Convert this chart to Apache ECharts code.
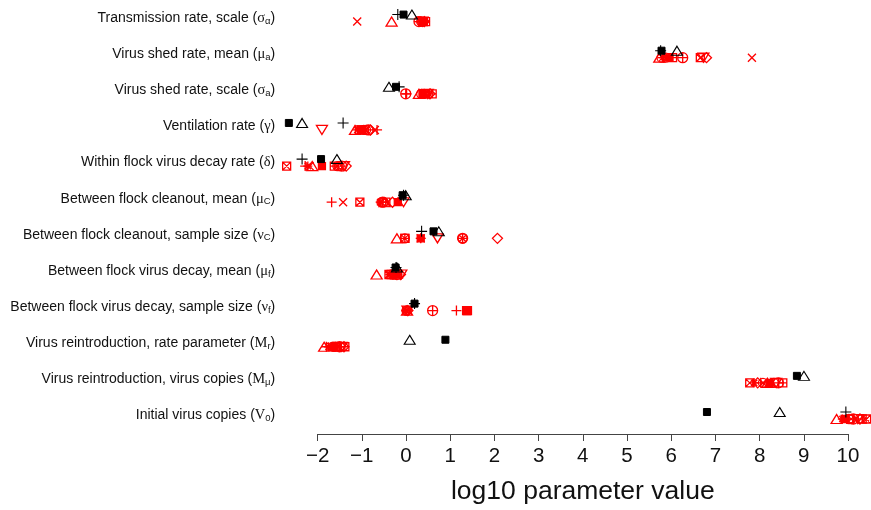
<!DOCTYPE html>
<html>
<head>
<meta charset="utf-8">
<script src="https://cdn.jsdelivr.net/npm/echarts@6/dist/echarts.min.js"></script>
<style>
html,body{margin:0;padding:0;background:#fff;}
#chart{width:871px;height:510px;}
</style>
</head>
<body>
<div id="chart"></div>
<script>
// ---------- DATA ----------
const paramNames = [
  'Transmission rate, scale',
  'Virus shed rate, mean',
  'Virus shed rate, scale',
  'Ventilation rate',
  'Within flock virus decay rate',
  'Between flock cleanout, mean',
  'Between flock cleanout, sample size',
  'Between flock virus decay, mean',
  'Between flock virus decay, sample size',
  'Virus reintroduction, rate parameter',
  'Virus reintroduction, virus copies',
  'Initial virus copies'
];
const paramSymbols = ['σ','μ','σ','γ','δ','μ','ν','μ','ν','M','M','V'];
const paramSubs    = ['α','a','a','','','C','C','f','f','r','μ','0'];

const xTickMin = -2;
const xTickMax = 10;
const xTickStep = 1;
const xTitle = 'log10 parameter value';

// black reference markers (one value per parameter row)
const blackPlus     = [-0.18, 5.78, -0.15, -1.42, -2.35, -0.05, 0.36, -0.22, 0.20, null, null, 9.98];
const blackSquare   = [-0.05, 5.80, -0.22, -2.65, -1.92, -0.07, 0.63, -0.23, 0.20, 0.90, 8.87, 6.83];
const blackTriangle = [ 0.14, 6.15, -0.38, -2.35, -1.56,  0.00, 0.75, -0.20, null, 0.09, 9.03, 8.48];

// red estimate markers (one value per parameter row)
const redTriangle    = [-0.32, 5.75, 0.30, -1.15, -2.12, -0.48, -0.20, -0.66, 0.03, -1.85, 8.20,  9.77];
const redInvTriangle = [ 0.38, 6.75, 0.50, -1.90, -1.40, -0.05,  0.72, -0.10, 0.04, -1.45, 8.40, 10.25];
const redPlus        = [ 0.33, 5.85, 0.02, -0.65, -2.28, -1.68,  0.34, -0.35, 1.15, -1.80, 8.05, 10.00];
const redCross       = [-1.10, 7.85, 0.52, -0.70, -2.18, -1.42,  0.34, -0.15, 0.05, -1.70, 8.28, 10.20];
const redDiamond     = [ 0.42, 6.82, 0.55, -0.80, -1.35, -0.30,  2.08, -0.12, 0.05, -1.40, 7.98, 10.30];
const redSquareX     = [ 0.40, 6.68, 0.45, -1.00, -2.70, -1.04, -0.02, -0.38, 1.38, -1.55, 7.80, 10.45];
const redAsterisk    = [ 0.36, 5.82, 0.40, -1.10, -2.22, -0.58,  0.34, -0.25, 0.00, -1.75, 7.90,  9.90];
const redCircle      = [ 0.35, 5.80, 0.35, -0.95, -1.50, -0.50, -0.02, -0.30, 0.02, -1.60, 8.35, 10.05];
const redCirclePlus  = [ 0.30, 6.28, 0.00, -0.85, -1.45, -0.52,  1.29, -0.20, 0.61, -1.50, 8.45, 10.15];
const redCircleX     = [ 0.37, 5.90, 0.42, -0.90, -1.55, -0.55,  1.29, -0.28, 0.02, -1.65, 8.10, 10.10];
const redSquarePlus  = [ 0.45, 6.05, 0.60, -1.05, -1.62, -0.45, -0.02, -0.33, 1.40, -1.38, 8.55, 10.35];
const redFilled      = [ 0.39, 5.98, 0.38, -0.98, -1.90, -0.18,  0.34, -0.22, 1.38, -1.62, 8.25,  9.95];

// ---------- STYLE ----------
const RED = '#ff0000';
const BLACK = '#000000';
const NONE = 'rgba(0,0,0,0)';
const SYM = {
  triangle: 'path://M5,0L10,9L0,9Z',
  invtri:   'path://M0,0L10,0L5,9Z',
  plus:     'path://M5,0L5,10M0,5L10,5',
  cross:    'path://M0,0L10,10M10,0L0,10',
  diamond:  'path://M5,0L10,5L5,10L0,5Z',
  squarex:  'path://M0,0L10,0L10,10L0,10ZM0,0L10,10M10,0L0,10',
  asterisk: 'path://M5,0L5,10M0,5L10,5M1.5,1.5L8.5,8.5M8.5,1.5L1.5,8.5',
  circle:   'path://M0,5A5,5 0 1,0 10,5A5,5 0 1,0 0,5Z',
  circleplus:'path://M0,5A5,5 0 1,0 10,5A5,5 0 1,0 0,5ZM5,0L5,10M0,5L10,5',
  circlex:  'path://M0,5A5,5 0 1,0 10,5A5,5 0 1,0 0,5ZM1.5,1.5L8.5,8.5M8.5,1.5L1.5,8.5',
  squareplus:'path://M0,0L10,0L10,10L0,10ZM5,0L5,10M0,5L10,5',
  square:   'path://M0,0L10,0L10,10L0,10Z'
};

const PX_PER_UNIT = 44.2;
const ZERO_PX = 406;
const X_MIN = -2.8, X_MAX = 10.55;
const W = 871, H = 510;
const gridLeft = ZERO_PX + X_MIN * PX_PER_UNIT;
const gridRight = W - (ZERO_PX + X_MAX * PX_PER_UNIT);
const axisLeft = ZERO_PX + xTickMin * PX_PER_UNIT;
const axisRight = W - (ZERO_PX + xTickMax * PX_PER_UNIT);
const ROW_H = 36.18;
const FIRST_ROW_Y = 17.5;
const gridTop = FIRST_ROW_Y - ROW_H / 2;
const gridBottom = H - (gridTop + ROW_H * paramNames.length);
const AXIS_Y = 437;

function toData(arr) {
  const out = [];
  arr.forEach((v, i) => { if (v !== null && v !== undefined) out.push([v, paramNames[i]]); });
  return out;
}
function mk(arr, sym, size, color, filled, dy, z, bw) {
  return {
    type: 'scatter', xAxisIndex: 0, yAxisIndex: 0,
    data: toData(arr), symbol: SYM[sym], symbolSize: size,
    symbolOffset: [0, dy], clip: false, silent: true, z: z,
    itemStyle: { color: filled ? color : NONE, borderColor: color, borderWidth: bw || 1.3, opacity: 1 },
    emphasis: { disabled: true }
  };
}
const RDY = 3.5, BDY = -3.5;
const series = [
  mk(redTriangle, 'triangle', [11, 9], RED, false, RDY, 2),
  mk(redInvTriangle, 'invtri', [11, 9], RED, false, RDY, 2),
  mk(redPlus, 'plus', [10, 10], RED, false, RDY, 2),
  mk(redCross, 'cross', [8, 8], RED, false, RDY, 2),
  mk(redDiamond, 'diamond', [10, 10], RED, false, RDY, 2),
  mk(redSquareX, 'squarex', [8, 8], RED, false, RDY, 2),
  mk(redAsterisk, 'asterisk', [9, 9], RED, false, RDY, 2),
  mk(redCircle, 'circle', [9, 9], RED, false, RDY, 2),
  mk(redCirclePlus, 'circleplus', [10, 10], RED, false, RDY, 2),
  mk(redCircleX, 'circlex', [9, 9], RED, false, RDY, 2),
  mk(redSquarePlus, 'squareplus', [8, 8], RED, false, RDY, 2),
  mk(redFilled, 'square', [7, 7], RED, true, RDY, 2),
  mk(blackTriangle, 'triangle', [11, 9], BLACK, false, BDY, 3, 1.1),
  mk(blackSquare, 'square', [7, 7], BLACK, true, BDY, 3, 1),
  mk(blackPlus, 'plus', [11, 11], BLACK, false, BDY, 3, 1.1)
];

const chart = echarts.init(document.getElementById('chart'), null, { renderer: 'canvas' });
const FONT = '"Liberation Sans", Arial, Helvetica, sans-serif';
chart.setOption({
  animation: false,
  backgroundColor: '#ffffff',
  grid: [
    { left: gridLeft, right: gridRight, top: gridTop, bottom: gridBottom, containLabel: false },
    { left: axisLeft, right: axisRight, top: 20, bottom: H - AXIS_Y, containLabel: false }
  ],
  xAxis: [
    { gridIndex: 0, type: 'value', min: X_MIN, max: X_MAX, show: false },
    { gridIndex: 1, type: 'value', min: xTickMin, max: xTickMax, interval: xTickStep,
      position: 'bottom',
      axisLine: { show: true, lineStyle: { color: '#444', width: 1 } },
      axisTick: { show: true, length: 7, lineStyle: { color: '#444', width: 1 } },
      splitLine: { show: false },
      axisLabel: { show: true, margin: 12, fontSize: 20.5, color: '#111', fontFamily: FONT,
        formatter: v => String(v).replace('-', '\u2212') },
      name: xTitle, nameLocation: 'middle', nameGap: 44,
      nameTextStyle: { fontSize: 26.5, color: '#111', fontFamily: FONT }
    }
  ],
  yAxis: [
    { gridIndex: 0, type: 'category', data: paramNames, inverse: true,
      axisLine: { show: false }, axisTick: { show: false }, splitLine: { show: false },
      axisLabel: {
        margin: 7, color: '#111',
        formatter: (val, idx) => {
          const sub = paramSubs[idx] ? `{s|${paramSubs[idx]}}` : '';
          return `{t|${paramNames[idx]} (}{g|${paramSymbols[idx]}}${sub}{t|)}`;
        },
        rich: {
          t: { fontSize: 14, fontFamily: FONT, color: '#111' },
          g: { fontSize: 14.5, fontFamily: '"Liberation Serif", "DejaVu Serif", serif', color: '#111' },
          s: { fontSize: 9.5, fontFamily: FONT, color: '#111', padding: [6, 0, 0, 0] }
        }
      }
    },
    { gridIndex: 1, type: 'value', show: false, min: 0, max: 1 }
  ],
  series: series
});
</script>
</body>
</html>
